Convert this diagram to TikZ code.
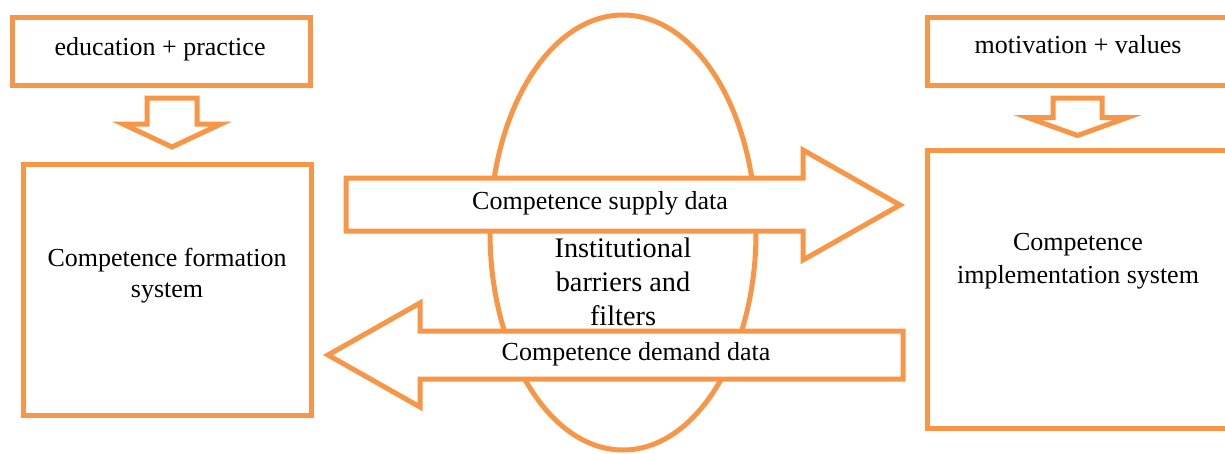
\documentclass[tikz,border=0pt]{standalone}
\usepackage{fontspec}
\setmainfont{Liberation Serif}
\definecolor{org}{HTML}{F79646}
\begin{document}
\begin{tikzpicture}[x=1pt,y=-1pt,
  ob/.style={draw=org, line width=5pt, fill=white, line join=miter, miter limit=10},
  lbl/.style={font=\fontsize{26}{33}\selectfont, anchor=base, inner sep=0pt, text=black},
  big/.style={lbl, font=\fontsize{28.3}{34}\selectfont}]
\useasboundingbox (0,0) rectangle (1225,453);
\clip (0,0) rectangle (1225,453);
% ellipse
\draw[ob, fill=none] (623,232.5) ellipse [x radius=133pt, y radius=217.5pt];
% top boxes
\draw[ob] (12,17) rectangle (310,85);
\draw[ob] (927,17) rectangle (1229,85);
% main boxes
\draw[ob] (23,164) rectangle (311,415);
\draw[ob] (927,150) rectangle (1229,428);
% down arrows
\draw[ob] (147,98) -- (197,98) -- (197,124) -- (221,124) -- (172,147) -- (123,124) -- (147,124) -- cycle;
\draw[ob] (1053,98) -- (1102,98) -- (1102,117.5) -- (1127.5,117.5) -- (1077.5,135.5) -- (1027.5,117.5) -- (1053,117.5) -- cycle;
% supply arrow
\draw[ob] (346,178) -- (803,178) -- (803,150) -- (900,205) -- (803,260) -- (803,231) -- (346,231) -- cycle;
% demand arrow
\draw[ob] (903,331) -- (420,331) -- (420,303) -- (328,355) -- (420,407) -- (420,379) -- (903,379) -- cycle;
% texts
\node[lbl] (ep) at (160,55) {education + practice};
\node[lbl] (mv) at (1078,53) {motivation + values};
\node[lbl] (cf1) at (167,266) {Competence formation};
\node[lbl] (cf2) at (167,297) {system};
\node[lbl] (ci1) at (1078,250) {Competence};
\node[lbl] (ci2) at (1078,283) {implementation system};
\node[lbl] (sup) at (600,209) {Competence supply data};
\node[lbl] (dem) at (636,360) {Competence demand data};
\node[big] (ib1) at (623,257) {Institutional};
\node[big] (ib2) at (623,291) {barriers and};
\node[big] (ib3) at (623,325) {filters};
\end{tikzpicture}
\end{document}
